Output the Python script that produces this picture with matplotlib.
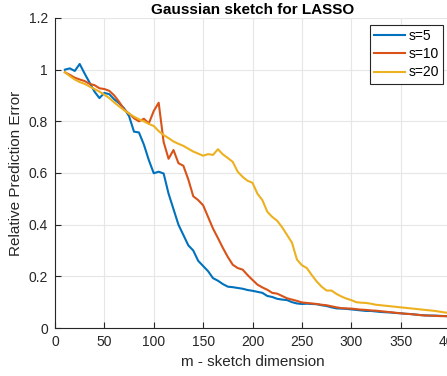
import numpy as np
import matplotlib
matplotlib.use("Agg")
import matplotlib.pyplot as plt
from matplotlib.ticker import FixedLocator, FuncFormatter

plt.rcParams['font.family'] = ['Liberation Sans', 'DejaVu Sans']

# sketch dimension m, step 5 from 10 to 400
m = np.arange(10, 401, 5)

err_s5 = [1.00, 1.005, 0.995, 1.022, 0.985, 0.95, 0.915, 0.89, 0.91, 0.905,
          0.885, 0.87, 0.85, 0.82, 0.76, 0.757, 0.71, 0.65, 0.599, 0.605,
          0.598, 0.52, 0.46, 0.40, 0.36, 0.32, 0.30, 0.26, 0.24, 0.22,
          0.193, 0.183, 0.17, 0.16, 0.158, 0.155, 0.152, 0.147, 0.144, 0.14,
          0.136, 0.124, 0.12, 0.113, 0.11, 0.108, 0.10, 0.095, 0.093, 0.094,
          0.093, 0.092, 0.088, 0.085, 0.08, 0.076, 0.075, 0.074, 0.072, 0.07,
          0.068, 0.066, 0.066, 0.064, 0.062, 0.061, 0.06, 0.058, 0.057, 0.055,
          0.054, 0.052, 0.05, 0.049, 0.048, 0.048, 0.047, 0.046, 0.045]

err_s10 = [0.99, 0.98, 0.969, 0.962, 0.956, 0.945, 0.94, 0.928, 0.925, 0.918,
           0.90, 0.875, 0.846, 0.83, 0.812, 0.80, 0.81, 0.792, 0.84, 0.872,
           0.72, 0.655, 0.689, 0.638, 0.628, 0.575, 0.51, 0.495, 0.475, 0.43,
           0.385, 0.348, 0.31, 0.275, 0.245, 0.232, 0.226, 0.205, 0.186, 0.168,
           0.157, 0.148, 0.136, 0.133, 0.124, 0.115, 0.11, 0.105, 0.099, 0.097,
           0.095, 0.093, 0.09, 0.088, 0.084, 0.08, 0.077, 0.076, 0.075, 0.073,
           0.071, 0.07, 0.068, 0.067, 0.065, 0.063, 0.061, 0.059, 0.057, 0.055,
           0.054, 0.052, 0.05, 0.048, 0.048, 0.047, 0.046, 0.046, 0.045]

err_s20 = [0.99, 0.975, 0.962, 0.952, 0.945, 0.935, 0.925, 0.915, 0.903, 0.89,
           0.873, 0.858, 0.843, 0.83, 0.818, 0.808, 0.80, 0.79, 0.782, 0.762,
           0.747, 0.735, 0.722, 0.713, 0.705, 0.694, 0.683, 0.675, 0.667, 0.673,
           0.67, 0.692, 0.672, 0.658, 0.643, 0.605, 0.585, 0.57, 0.562, 0.52,
           0.495, 0.45, 0.43, 0.415, 0.39, 0.36, 0.33, 0.265, 0.243, 0.232,
           0.205, 0.18, 0.16, 0.145, 0.145, 0.132, 0.122, 0.114, 0.108, 0.10,
           0.098, 0.097, 0.094, 0.09, 0.088, 0.086, 0.084, 0.082, 0.08, 0.078,
           0.076, 0.074, 0.072, 0.07, 0.068, 0.066, 0.063, 0.06, 0.058]

labels = ['s=5', 's=10', 's=20']
colors = ['#0072BD', '#D95319', '#EDB120']

fig = plt.figure(figsize=(4.47, 3.76), dpi=100)
# axes run a bit past the right edge, like the original crop
ax = fig.add_axes([55 / 447, 48 / 376, 395 / 447, 310 / 376])

for ys, lab, c in zip([err_s5, err_s10, err_s20], labels, colors):
    ax.plot(m, ys, color=c, lw=1.5, label=lab)

ax.set_xlim(0, 400)
ax.set_ylim(0, 1.2)
ax.xaxis.set_major_locator(FixedLocator(np.arange(0, 401, 50)))
ax.yaxis.set_major_locator(FixedLocator(np.arange(0, 1.21, 0.2)))
ax.yaxis.set_major_formatter(FuncFormatter(lambda v, p: f"{v:g}"))
ax.grid(True, color='#e6e6e6', lw=0.8)
ax.set_axisbelow(True)

for side in ['top', 'right']:
    ax.spines[side].set_visible(False)
for side in ['left', 'bottom']:
    ax.spines[side].set_color('#262626')
    ax.spines[side].set_linewidth(0.8)
ax.tick_params(direction='in', length=4, width=0.8, colors='#262626',
               labelsize=10, labelcolor='#262626', pad=5)

ax.set_title('Gaussian sketch for LASSO', fontsize=11, fontweight='bold', pad=3)
ax.set_xlabel('m - sketch dimension', fontsize=11, color='#262626', labelpad=4)
ax.set_ylabel('Relative Prediction Error', fontsize=11, color='#262626', labelpad=4)

leg = ax.legend(loc='upper right', bbox_to_anchor=(388 / 395, 1 - 7 / 310),
                fontsize=10, fancybox=False, framealpha=1, edgecolor='#262626',
                handlelength=2.2, borderpad=0.3, labelspacing=0.3,
                handletextpad=0.25, borderaxespad=0)
leg.get_frame().set_linewidth(0.8)

fig.savefig('out.png', dpi=100)
